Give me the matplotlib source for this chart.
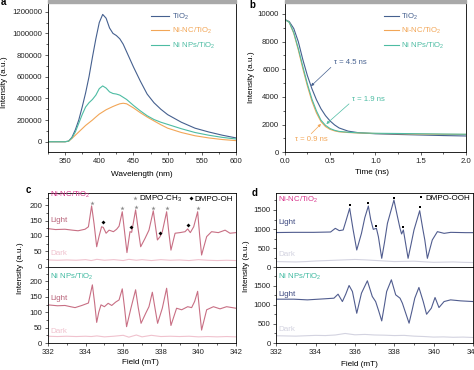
import matplotlib
matplotlib.use('Agg')
import matplotlib.pyplot as plt
from matplotlib.lines import Line2D
from matplotlib.patches import Rectangle
from matplotlib.ticker import MultipleLocator, FuncFormatter

plt.rcParams['font.family'] = ['Liberation Sans', 'DejaVu Sans']
plt.rcParams['mathtext.fontset'] = 'custom'
plt.rcParams['mathtext.rm'] = 'Liberation Sans'
plt.rcParams['mathtext.it'] = 'Liberation Sans:italic'
plt.rcParams['mathtext.default'] = 'regular'

# ---- a: steady-state PL ----
pl_wl = [325, 340, 350, 355, 360, 365, 370, 375, 380, 385, 390, 395, 400, 405, 410, 415,
         420, 425, 430, 435, 440, 450, 460, 470, 480, 490, 500, 520, 540, 560, 580, 600]
pl_tio2 = [0, 0, 0, 5000, 40000, 110000, 200000, 320000, 450000, 600000, 780000, 950000,
           1100000, 1175000, 1140000, 1050000, 1000000, 980000, 950000, 900000, 830000,
           690000, 560000, 440000, 360000, 300000, 250000, 180000, 125000, 90000, 60000, 35000]
pl_ninc = [0, 0, 0, 4000, 30000, 60000, 90000, 120000, 150000, 175000, 200000, 228000,
           255000, 275000, 295000, 310000, 325000, 338000, 350000, 355000, 350000,
           312000, 268000, 228000, 192000, 157000, 125000, 85000, 55000, 35000, 20000, 10000]
pl_ninps = [0, 0, 0, 5000, 35000, 90000, 170000, 250000, 320000, 360000, 390000, 430000,
            490000, 515000, 495000, 460000, 445000, 440000, 430000, 410000, 390000,
            335000, 285000, 240000, 205000, 180000, 160000, 120000, 85000, 60000, 40000, 25000]

# ---- b: TRPL decay ----
t_ns = [0, 0.05, 0.1, 0.15, 0.2, 0.25, 0.3, 0.35, 0.4, 0.45, 0.5, 0.55, 0.6, 0.7, 0.8,
        0.9, 1.0, 1.25, 1.5, 1.75, 2.0]
tr_tio2 = [9600, 9450, 8950, 8000, 6700, 5550, 4600, 3800, 3150, 2650, 2270, 1980, 1760,
           1530, 1430, 1380, 1340, 1290, 1250, 1210, 1180]
tr_ninc = [9600, 9400, 8600, 7400, 6050, 4800, 3700, 2850, 2220, 1860, 1660, 1550, 1480,
           1430, 1400, 1380, 1360, 1340, 1320, 1300, 1290]
tr_ninps = [9600, 9400, 8650, 7500, 6200, 4950, 3850, 3000, 2320, 1950, 1720, 1590, 1510,
            1450, 1410, 1390, 1375, 1360, 1340, 1320, 1305]

# ---- c: EPR DMPO-CH3 / DMPO-OH ----
c1_field = [332.0, 332.4, 332.9, 333.3, 333.6, 333.97, 334.15, 334.32, 334.45, 334.59, 334.72,
            334.85, 334.94, 335.09, 335.25, 335.48, 335.65, 335.78, 335.95, 336.08, 336.2,
            336.36, 336.45, 336.66, 336.8, 336.93, 337.16, 337.37, 337.6, 337.72, 337.82,
            337.96, 338.08, 338.31, 338.43, 338.54, 338.76, 339.02, 339.29, 339.43, 339.57,
            339.75, 339.96, 340.07, 340.17, 340.44, 340.7, 341.06, 341.42, 341.68, 342.0]
c1_light = [124, 121, 122, 119, 117, 122, 130, 198, 140, 65, 100, 130, 128, 109, 119, 114,
            122, 132, 179, 110, 46, 114, 112, 185, 120, 65, 92, 119, 182, 130, 87, 98, 114,
            179, 110, 54, 109, 111, 114, 123, 111, 130, 179, 100, 38, 98, 114, 111, 119, 109, 111]
c2_field = [332.0, 332.5, 332.9, 333.2, 333.44, 333.8, 334.15, 334.36, 334.48, 334.59, 334.7,
            334.82, 335.0, 335.2, 335.39, 335.6, 335.78, 335.95, 336.07, 336.18, 336.41,
            336.66, 336.8, 336.95, 337.2, 337.37, 337.55, 337.7, 337.83, 338.08, 338.31,
            338.43, 338.54, 338.84, 339.11, 339.43, 339.64, 339.8, 339.96, 340.07, 340.17,
            340.44, 340.8, 341.15, 341.5, 342.0]
c2_light = [124, 121, 122, 118, 115, 122, 130, 189, 130, 67, 100, 124, 118, 129, 122, 133,
            140, 176, 115, 53, 113, 173, 115, 64, 97, 118, 165, 110, 64, 113, 178, 115, 57,
            113, 108, 118, 115, 135, 168, 100, 42, 108, 118, 111, 118, 113]
dark_field = [332.0, 332.5, 333.0, 333.5, 334.0, 334.3, 334.6, 335.0, 335.5, 336.0, 336.3,
              336.7, 337.0, 337.5, 338.0, 338.5, 339.0, 339.5, 340.0, 340.5, 341.0, 341.5, 342.0]
c1_dark = [22, 21, 22, 21, 23, 20, 24, 21, 23, 20, 24, 21, 23, 20, 23, 21, 22, 20, 23, 21,
           20, 21, 20]
c2_dark = [22, 21, 22, 21, 22, 21, 23, 20, 22, 25, 19, 26, 20, 25, 21, 22, 21, 22, 20, 21,
           20, 21, 20]
ch3_field = [334.32, 335.95, 336.66, 337.6, 338.31, 339.96]
ch3_int = [208, 190, 193, 190, 191, 191]
oh_field = [334.9, 336.4, 337.97, 339.43]
oh_int = [144, 128, 111, 137]

# ---- d: EPR DMPO-OOH ----
d1_field = [332.0, 332.9, 333.9, 334.76, 335.0, 335.2, 335.4, 335.53, 335.73, 335.9, 336.09,
            336.33, 336.5, 336.68, 336.8, 336.93, 337.09, 337.19, 337.36, 337.5, 337.65,
            337.98, 338.15, 338.29, 338.37, 338.46, 338.7, 338.85, 339.0, 339.29, 339.45,
            339.55, 339.68, 339.93, 340.19, 340.53, 340.87, 341.63, 342.0]
d1_light = [910, 915, 915, 924, 1020, 960, 977, 1195, 1543, 1000, 453, 889, 1300, 1604, 1250,
            994, 1020, 802, 235, 650, 1151, 1761, 1350, 1020, 872, 977, 235, 600, 977, 1482,
            1000, 715, 235, 715, 933, 889, 915, 907, 907]
d2_field = [332.0, 332.9, 333.58, 334.43, 334.93, 335.14, 335.36, 335.53, 335.7, 335.87,
            336.09, 336.33, 336.63, 336.88, 337.05, 337.2, 337.36, 337.5, 337.61, 337.85,
            338.07, 338.29, 338.41, 338.6, 338.75, 338.9, 339.04, 339.25, 339.47, 339.64,
            339.88, 340.07, 340.27, 340.53, 340.86, 341.37, 342.0]
d2_light = [1149, 1149, 1131, 1158, 1175, 1280, 1087, 1280, 1508, 1350, 780, 1307, 1631, 1219,
            1087, 850, 579, 1000, 1350, 1657, 1263, 1175, 1044, 750, 520, 850, 1175, 1456,
            1087, 754, 912, 1193, 930, 1087, 1131, 1105, 1087]
ddark_field = [332.0, 332.5, 333.0, 333.5, 334.0, 334.5, 335.0, 335.5, 336.0, 336.5, 337.0,
               337.5, 338.0, 338.5, 339.0, 339.5, 340.0, 340.5, 341.0, 341.5, 342.0]
d1_dark = [150, 145, 140, 150, 165, 175, 185, 195, 205, 195, 180, 165, 150, 155, 160, 145,
           130, 135, 140, 130, 125]
d2_dark = [190, 185, 180, 190, 200, 195, 210, 250, 215, 225, 210, 205, 195, 200, 180, 170,
           155, 160, 150, 155, 145]
ooh_field = [335.73, 336.68, 337.09, 337.98, 338.46, 339.29]
ooh_int = [1630, 1690, 1080, 1805, 1046, 1587]

c_tio2 = '#45608f'
c_ninc = '#f2a657'
c_ninps = '#4dbca3'
c_mag = '#d8358c'
c_teal = '#3fb9a0'
fs = 5.6

W, H = 474, 370
fig = plt.figure(figsize=(W / 100, H / 100), dpi=100)


def box(l, t, r, b):
    return [l / W, 1 - b / H, (r - l) / W, (b - t) / H]


def style(ax):
    ax.tick_params(which='both', direction='out', labelsize=fs, width=0.5, pad=1.5,
                   colors='#222222')
    ax.tick_params(which='major', length=2.5)
    ax.tick_params(which='minor', length=1.5)
    for s in ax.spines.values():
        s.set_linewidth(0.6)


def ftext(x, y, s, **kw):
    fig.text(x / W, 1 - y / H, s, ha='center', va='center', fontsize=fs + 0.3, **kw)


# panel a
ax = fig.add_axes(box(48, 2.5, 236, 152))
ax.plot(pl_wl, pl_tio2, color=c_tio2, lw=0.8, label='TiO$_2$')
ax.plot(pl_wl, pl_ninc, color=c_ninc, lw=0.8, label='Ni-NC/TiO$_2$')
ax.plot(pl_wl, pl_ninps, color=c_ninps, lw=0.8, label='Ni NPs/TiO$_2$')
ax.set_xlim(325, 600)
ax.set_ylim(-95000, 1285000)
ax.xaxis.set_major_locator(MultipleLocator(50))
ax.xaxis.set_minor_locator(MultipleLocator(25))
ax.yaxis.set_major_locator(MultipleLocator(200000))
ax.yaxis.set_minor_locator(MultipleLocator(100000))
ax.yaxis.set_major_formatter(FuncFormatter(lambda v, p: f'{int(round(v))}'))
style(ax)
ax.legend(loc='upper left', bbox_to_anchor=(0.55, 0.94), frameon=False, fontsize=fs,
          labelcolor='linecolor', handlelength=2.3, handletextpad=0.4, labelspacing=0.55,
          borderpad=0, borderaxespad=0)

# panel b
ax = fig.add_axes(box(284.7, 2.5, 466, 152.3))
ax.plot(t_ns, tr_tio2, color=c_tio2, lw=0.8, label='TiO$_2$')
ax.plot(t_ns, tr_ninc, color=c_ninc, lw=0.8, label='Ni-NC/TiO$_2$')
ax.plot(t_ns, tr_ninps, color=c_ninps, lw=0.8, label='Ni NPs/TiO$_2$')
ax.set_xlim(0, 2.0)
ax.set_ylim(0, 10830)
ax.xaxis.set_major_locator(MultipleLocator(0.5))
ax.xaxis.set_minor_locator(MultipleLocator(0.25))
ax.yaxis.set_major_locator(MultipleLocator(2000))
ax.yaxis.set_minor_locator(MultipleLocator(1000))
style(ax)
ax.legend(loc='upper left', bbox_to_anchor=(0.545, 0.94), frameon=False, fontsize=fs,
          labelcolor='linecolor', handlelength=2.0, handletextpad=0.3, labelspacing=0.55,
          borderpad=0, borderaxespad=0)
arr = dict(arrowstyle='-|>', lw=0.5, mutation_scale=4, shrinkA=0, shrinkB=0)
ax.annotate('τ = 4.5 ns', xy=(0.29, 4790), xytext=(0.54, 6480), fontsize=fs,
            color=c_tio2, va='center', ha='left',
            arrowprops=dict(arr, color=c_tio2, relpos=(0, 0.2)))
ax.annotate('τ = 1.9 ns', xy=(0.46, 2050), xytext=(0.74, 3830), fontsize=fs,
            color=c_ninps, va='center', ha='left',
            arrowprops=dict(arr, color=c_ninps, relpos=(0, 0.2)))
ax.annotate('τ = 0.9 ns', xy=(0.40, 2050), xytext=(0.117, 890), fontsize=fs,
            color=c_ninc, va='center', ha='left',
            arrowprops=dict(arr, color=c_ninc, relpos=(0.4, 1.0)))

# panels c and d
c_light, c_lightlab, c_dark = '#c86f84', '#b9647a', '#f0c2ce'
d_light, d_lightlab, d_dark = '#515d8f', '#3e4a80', '#d3d3e0'

panels = [
    (48, 236, 332.1, c_light, c_lightlab, c_dark, 50, 25,
     [(193, 266.7, 240, c1_field, c1_light, c1_dark, dark_field, 'Ni-NC/TiO$_2$', c_mag,
       (233, 150, 43)),
      (266.7, 343, 248, c2_field, c2_light, c2_dark, dark_field, 'Ni NPs/TiO$_2$', c_teal,
       (216, 146, 37))]),
    (276.3, 473, 332.1, d_light, d_lightlab, d_dark, 500, 250,
     [(193, 267.3, 1945, d1_field, d1_light, d1_dark, ddark_field, 'Ni-NC/TiO$_2$', c_mag,
       (1760, 1177, 323)),
      (267.3, 343, 1985, d2_field, d2_light, d2_dark, ddark_field, 'Ni NPs/TiO$_2$', c_teal,
       (1745, 1263, 342))]),
]
epr_axes = []
for left, right, xt, lc, llc, dc, maj, mnr, rows in panels:
    pair = []
    for i, (top, bot, ymax, fld, light, dark, dfld, name, ncol, ly) in enumerate(rows):
        ax = fig.add_axes(box(left, top, right, bot))
        ax.plot(dfld, dark, color=dc, lw=0.8)
        ax.plot(fld, light, color=lc, lw=0.8)
        ax.set_xlim(332, 342)
        ax.set_ylim(0, ymax)
        ax.xaxis.set_major_locator(MultipleLocator(2))
        ax.xaxis.set_minor_locator(MultipleLocator(1))
        ax.yaxis.set_major_locator(MultipleLocator(maj))
        ax.yaxis.set_minor_locator(MultipleLocator(mnr))
        style(ax)
        if i == 0:
            ax.tick_params(axis='x', which='both', bottom=False, labelbottom=False)
        ax.text(xt, ly[0], name, color=ncol, fontsize=fs, va='center', ha='left')
        ax.text(xt, ly[1], 'Light', color=llc, fontsize=fs + 0.2, va='center', ha='left')
        ax.text(xt, ly[2], 'Dark', color=dc, fontsize=fs + 0.2, va='center', ha='left')
        pair.append(ax)
    epr_axes.append(pair)

leg_kw = dict(frameon=False, fontsize=fs + 0.2, handlelength=0.6, handletextpad=0.2,
              borderpad=0, borderaxespad=0, loc='upper right', bbox_to_anchor=(0.985, 0.985))
axc = epr_axes[0][0]
axc.plot(ch3_field, ch3_int, ls='none', marker='*', color='#8a8a8a', ms=3.2, mew=0)
axc.plot(oh_field, oh_int, ls='none', marker='D', color='k', ms=2.0, mew=0)
axc.legend(handles=[Line2D([], [], ls='none', marker='*', color='#8a8a8a', ms=3.2, mew=0),
                    Line2D([], [], ls='none', marker='D', color='k', ms=2.0, mew=0)],
           labels=['DMPO-CH$_3$', 'DMPO-OH'], ncol=2, columnspacing=0.8, **leg_kw)
axd = epr_axes[1][0]
axd.plot(ooh_field, ooh_int, ls='none', marker='s', color='k', ms=2.0, mew=0)
axd.legend(handles=[Line2D([], [], ls='none', marker='s', color='k', ms=2.0, mew=0)],
           labels=['DMPO-OOH'], **leg_kw)

# axis titles
ftext(5, 82, 'Intensity (a.u.)', rotation=90)
ftext(252, 77, 'Intensity (a.u.)', rotation=90)
ftext(20, 268, 'Intensity (a.u.)', rotation=90)
ftext(246, 266, 'Intensity (a.u.)', rotation=90)
ftext(142, 174, 'Wavelength (nm)')
ftext(372, 173, 'Time (ns)')
ftext(140, 363, 'Field (mT)')
ftext(359, 364, 'Field (mT)')

# panel letters
for x, y, s in [(3, 2, 'a'), (252, 4.5, 'b'), (28, 190, 'c'), (255, 193, 'd')]:
    fig.text(x / W, 1 - y / H, s, fontsize=7, fontweight='bold', ha='center', va='center')

# gray strip from the cropped source at the very top
for l, r in [(48, 236), (284.7, 466)]:
    fig.patches.append(Rectangle((l / W, 1 - 2.5 / H), (r - l) / W, 2.5 / H,
                                 transform=fig.transFigure, color='#a9a9a9', zorder=5))

fig.savefig('out.png', dpi=100)
